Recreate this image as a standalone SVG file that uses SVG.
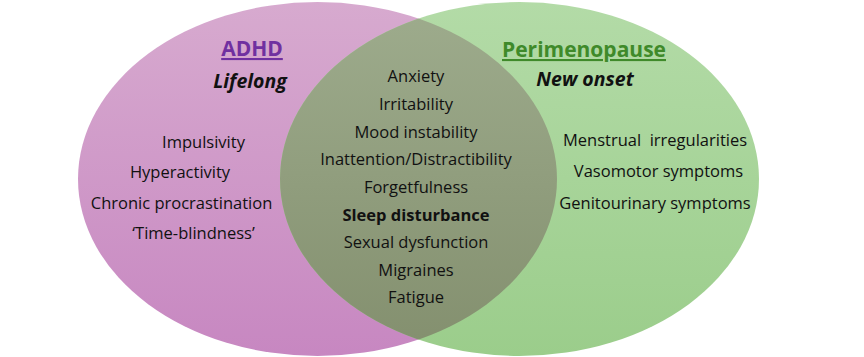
<svg xmlns="http://www.w3.org/2000/svg" width="864" height="357" viewBox="0 0 864 357">
<defs>
<linearGradient id="gPink" x1="0" y1="0" x2="0" y2="1">
<stop offset="0" stop-color="#D7AACF"/>
<stop offset="1" stop-color="#C787C1"/>
</linearGradient>
<linearGradient id="gGreen" x1="0" y1="0" x2="0" y2="1">
<stop offset="0" stop-color="#B3DBA7"/>
<stop offset="1" stop-color="#9BCD8B"/>
</linearGradient>
<linearGradient id="gOver" x1="0" y1="0" x2="0" y2="1">
<stop offset="0" stop-color="#9EAC8D"/>
<stop offset="1" stop-color="#838F6E"/>
</linearGradient>
<clipPath id="clipPink">
<ellipse cx="317.5" cy="179" rx="239.5" ry="177"/>
</clipPath>
</defs>
<style>
text { font-family: "Open Sans", "Liberation Sans", sans-serif; fill: #111; text-anchor: middle; white-space: pre; }
.body { font-size: 16.5px; }
.bold { font-weight: bold; }
.title { font-size: 21px; font-weight: bold; text-decoration: underline; }
.sub { font-size: 19.5px; font-weight: bold; font-style: italic; }
</style>
<g id="adhd">
<ellipse cx="317.5" cy="179" rx="239.5" ry="177" fill="url(#gPink)"/>
<text class="title" x="252" y="56" style="fill:#7030A0">ADHD</text>
<text class="sub" x="250" y="88">Lifelong</text>
<text class="body" x="203.5" y="148">Impulsivity</text>
<text class="body" x="180" y="178">Hyperactivity</text>
<text class="body" x="181.5" y="209">Chronic procrastination</text>
<text class="body" x="193.5" y="239">‘Time-blindness’</text>
</g>
<g id="perimenopause">
<ellipse cx="519.5" cy="179" rx="239.5" ry="177" fill="url(#gGreen)"/>
<text class="title" x="584" y="57" style="fill:#3F8A2A">Perimenopause</text>
<text class="sub" x="585" y="86">New onset</text>
<text class="body" x="655" y="146">Menstrual  irregularities</text>
<text class="body" x="658.5" y="177">Vasomotor symptoms</text>
<text class="body" x="655" y="209">Genitourinary symptoms</text>
</g>
<g id="overlap">
<ellipse cx="519.5" cy="179" rx="239.5" ry="177" fill="url(#gOver)" clip-path="url(#clipPink)"/>
<text class="body" x="416" y="82">Anxiety</text>
<text class="body" x="416" y="110">Irritability</text>
<text class="body" x="416" y="137.5">Mood instability</text>
<text class="body" x="416" y="165">Inattention/Distractibility</text>
<text class="body" x="416" y="193">Forgetfulness</text>
<text class="body bold" x="416" y="220.5">Sleep disturbance</text>
<text class="body" x="416" y="248">Sexual dysfunction</text>
<text class="body" x="416" y="275.5">Migraines</text>
<text class="body" x="416" y="303">Fatigue</text>
</g>
</svg>
